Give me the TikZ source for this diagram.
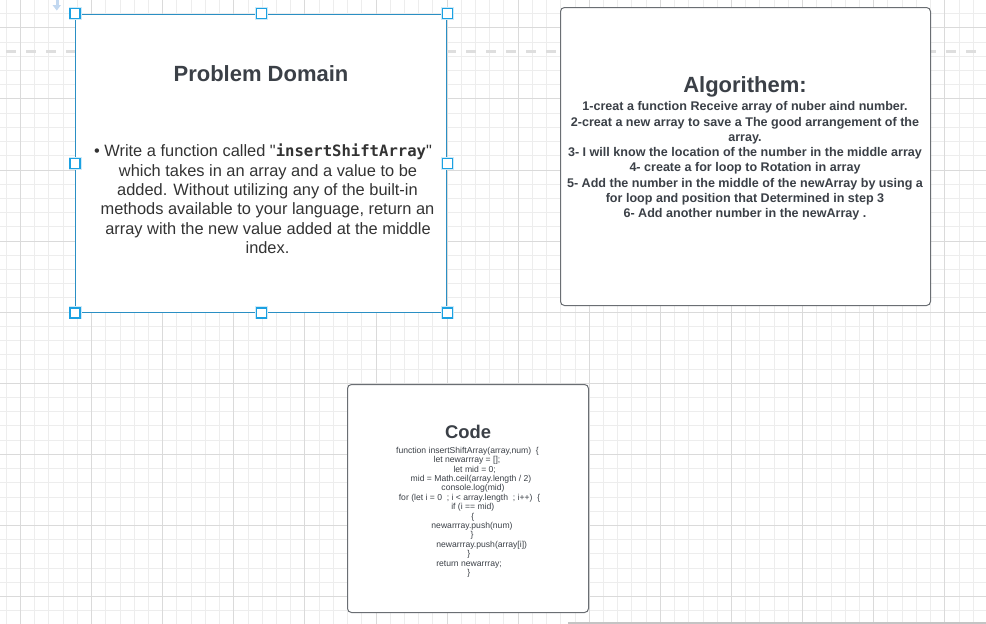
\documentclass[tikz,border=0pt]{standalone}
\usepackage{fontspec}
\setmainfont{Liberation Sans}[Ligatures=TeXOff]
\newfontfamily\monof{DejaVu Sans Mono}
\definecolor{gridminor}{HTML}{EDEDED}
\definecolor{gridmajor}{HTML}{DADADA}
\definecolor{dashgray}{HTML}{DEDEDE}
\definecolor{selblue}{HTML}{2A8FC4}
\definecolor{handleblue}{HTML}{1BA1E2}
\definecolor{halo}{HTML}{CFEAF8}
\definecolor{boxgray}{HTML}{6A6E73}
\definecolor{titlecol}{HTML}{3B4047}
\definecolor{bodycol}{HTML}{333333}
\definecolor{iconblue}{HTML}{C2D8F0}
\begin{document}
\begin{tikzpicture}[x=1pt,y=-1pt,
  minorline/.style={draw=gridminor,line width=1pt},
  majorline/.style={draw=gridmajor,line width=1pt},
  dashline/.style={draw=dashgray,line width=3pt,dash pattern=on 10pt off 10pt},
  card/.style={draw=boxgray,line width=1pt,fill=white,rounded corners=4pt,anchor=north west,inner sep=0pt},
  selcard/.style={draw=selblue,line width=1.4pt,fill=white,anchor=north west,inner sep=0pt},
  handle/.style={draw=handleblue,line width=1.3pt,fill=white,minimum size=10pt,inner sep=0pt,
    preaction={draw=halo,line width=3pt}},
  ttl/.style={font=\bfseries\fontsize{22}{26}\selectfont,text=titlecol,anchor=base,inner sep=0pt},
  algl/.style={font=\bfseries\fontsize{12.56}{15}\selectfont,text=titlecol,anchor=base,inner sep=0pt},
  pbody/.style={font=\fontsize{16.4}{19.4}\selectfont,text=bodycol,anchor=base,inner sep=0pt},
  codel/.style={font=\fontsize{8.6}{9}\selectfont,text=titlecol,anchor=base,inner sep=0pt}]
\useasboundingbox (0,0) rectangle (986,624);
\fill[white] (0,0) rectangle (986,624);
% grid
\foreach \i in {0,...,69} {\draw[minorline] ({6.28+14.22*\i},0) -- ({6.28+14.22*\i},624);}
\foreach \i in {0,...,44} {\draw[minorline] (0,{-0.64+14.22*\i}) -- (986,{-0.64+14.22*\i});}
\foreach \i in {0,...,13} {\draw[majorline] ({20.5+71.1*\i},0) -- ({20.5+71.1*\i},624);}
\foreach \i in {0,...,8} {\draw[majorline] (0,{27.8+71.1*\i}) -- (986,{27.8+71.1*\i});}
% dashed guide
\draw[dashline] (6,51) -- (986,51);
% bottom line
\draw[draw=gridmajor!90!black,line width=2pt] (568,623) -- (986,623);
% icon
\fill[iconblue] (56.2,0) rectangle (59.2,5.5);
\fill[iconblue] (52.5,5) -- (61,5) -- (56.8,10.5) -- cycle;
% cards
\node[card,minimum width=370pt,minimum height=298pt] (alg) at (560,7) {};
\node[card,minimum width=241pt,minimum height=228pt] (code) at (347,384) {};
\node[selcard,minimum width=371pt,minimum height=298pt] (pd) at (75,13.5) {};
% handles
\foreach \a/\n in {north west/h1,north/h2,north east/h3,west/h4,east/h5,south west/h6,south/h7,south east/h8}
  {\node[handle] (\n) at (pd.\a) {};}
% Problem Domain
\node[ttl] (pdt) at (261,81) {Problem Domain};
\node[pbody] (p1) at (263,156.7) {• Write a function called "{\monof\bfseries\fontsize{15.6}{19}\selectfont insertShiftArray}"};
\node[pbody] (p2) at (268,176) {which takes in an array and a value to be};
\node[pbody] (p3) at (267.5,195.4) {added. Without utilizing any of the built-in};
\node[pbody] (p4) at (267.5,214.8) {methods available to your language, return an};
\node[pbody] (p5) at (268,234.2) {array with the new value added at the middle};
\node[pbody] (p6) at (267.5,253.6) {index.};
% Algorithm
\node[ttl] (algt) at (745,92.7) {Algorithem:};
\node[algl] (a1) at (745,110.7) {1-creat a function Receive array of nuber aind number.};
\node[algl] (a2) at (745,126) {2-creat a new array to save a The good arrangement of the};
\node[algl] (a3) at (745,141.3) {array.};
\node[algl] (a4) at (745,156.6) {3- I will know the location of the number in the middle array};
\node[algl] (a5) at (745,171.9) {4- create a for loop to Rotation in array};
\node[algl] (a6) at (745,187.2) {5- Add the number in the middle of the newArray by using a};
\node[algl] (a7) at (745,202.5) {for loop and position that Determined in step 3};
\node[algl] (a8) at (745,217.8) {6- Add another number in the newArray .};
% Code
\node[ttl,font=\bfseries\fontsize{18.4}{22}\selectfont] (ct) at (468,438.3) {Code};
\node[codel] (c1) at (467.5,453.3) {function insertShiftArray(array,num)\ \ \{};
\node[codel] (c2) at (467,462.7) {let newarrray = [];};
\node[codel] (c3) at (474.7,472.1) {let mid = 0;};
\node[codel] (c4) at (471,481.5) {mid = Math.ceil(array.length / 2)};
\node[codel] (c5) at (473,490.9) {console.log(mid)};
\node[codel] (c6) at (469.5,500.3) {for (let i = 0\ \ ; i < array.length\ \ ; i++)\ \ \{};
\node[codel] (c7) at (472.8,509.7) {if (i == mid)};
\node[codel] (c8) at (472.7,519.1) {\{};
\node[codel] (c9) at (472,528.5) {newarrray.push(num)};
\node[codel] (c10) at (472,537.9) {\}};
\node[codel] (c11) at (481.7,547.3) {newarrray.push(array[i])};
\node[codel] (c12) at (468.7,556.7) {\}};
\node[codel] (c13) at (469,566.1) {return newarrray;};
\node[codel] (c14) at (468.7,575.5) {\}};
\end{tikzpicture}
\end{document}
